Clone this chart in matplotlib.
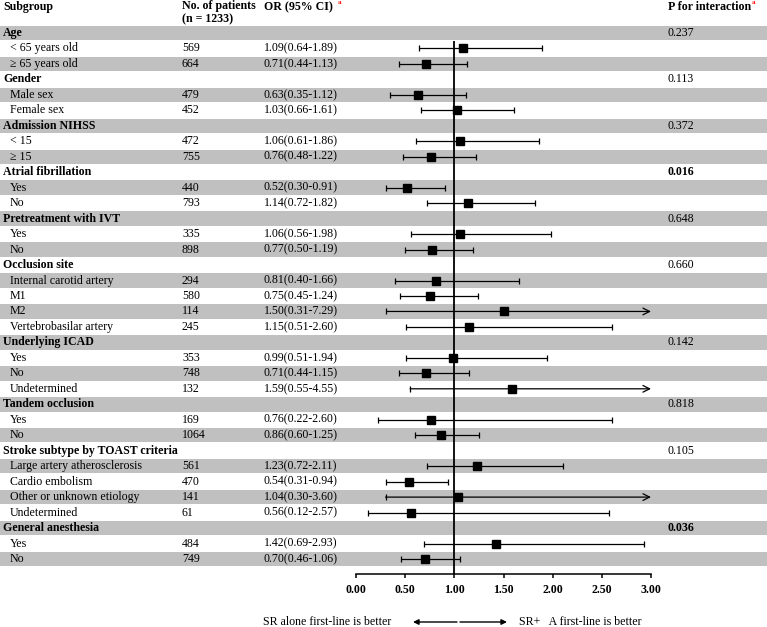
import numpy as np
import matplotlib
matplotlib.use("Agg")
import matplotlib.pyplot as plt

plt.rcParams['font.family'] = ['Liberation Serif', 'DejaVu Serif']

# ---- data (None = group header row) ----
subgroups = [
  "Age", "< 65 years old", "\u2265 65 years old",
  "Gender", "Male sex", "Female sex",
  "Admission NIHSS", "< 15", "\u2265 15",
  "Atrial fibrillation", "Yes", "No",
  "Pretreatment with IVT", "Yes", "No",
  "Occlusion site", "Internal carotid artery", "M1", "M2", "Vertebrobasilar artery",
  "Underlying ICAD", "Yes", "No", "Undetermined",
  "Tandem occlusion", "Yes", "No",
  "Stroke subtype by TOAST criteria", "Large artery atherosclerosis", "Cardio embolism",
  "Other or unknown etiology", "Undetermined",
  "General anesthesia", "Yes", "No",
]
n_patients = [None, 569, 664, None, 479, 452, None, 472, 755, None, 440, 793,
              None, 335, 898, None, 294, 580, 114, 245, None, 353, 748, 132,
              None, 169, 1064, None, 561, 470, 141, 61, None, 484, 749]
or_est = [None, 1.09, 0.71, None, 0.63, 1.03, None, 1.06, 0.76, None, 0.52, 1.14,
          None, 1.06, 0.77, None, 0.81, 0.75, 1.50, 1.15, None, 0.99, 0.71, 1.59,
          None, 0.76, 0.86, None, 1.23, 0.54, 1.04, 0.56, None, 1.42, 0.70]
ci_low = [None, 0.64, 0.44, None, 0.35, 0.66, None, 0.61, 0.48, None, 0.30, 0.72,
          None, 0.56, 0.50, None, 0.40, 0.45, 0.31, 0.51, None, 0.51, 0.44, 0.55,
          None, 0.22, 0.60, None, 0.72, 0.31, 0.30, 0.12, None, 0.69, 0.46]
ci_high = [None, 1.89, 1.13, None, 1.12, 1.61, None, 1.86, 1.22, None, 0.91, 1.82,
           None, 1.98, 1.19, None, 1.66, 1.24, 7.29, 2.60, None, 1.94, 1.15, 4.55,
           None, 2.60, 1.25, None, 2.11, 0.94, 3.60, 2.57, None, 2.93, 1.06]
p_interaction = {0: "0.237", 3: "0.113", 6: "0.372", 9: "0.016", 12: "0.648",
                 15: "0.660", 20: "0.142", 24: "0.818", 27: "0.105", 32: "0.036"}
p_bold = ["0.016", "0.036"]
xticks = [0.0, 0.5, 1.0, 1.5, 2.0, 2.5, 3.0]
x_max = 3.0

GRAY = "#c0c0c0"
FS = 8.6
W, H = 767, 627
row0, row_h = 33, 15.47
axis_y = 574

fig = plt.figure(figsize=(W / 100, H / 100), dpi=100)
bg = fig.add_axes([0, 0, 1, 1])
bg.set_xlim(0, W)
bg.set_ylim(H, 0)
bg.axis("off")

x0, x1 = 356, 651
ax = fig.add_axes([x0 / W, (H - axis_y) / H, (x1 - x0) / W, axis_y / H])
ax.set_xlim(0, x_max)
ax.set_ylim(axis_y, 0)
ax.patch.set_visible(False)

# header
bg.text(3, 7, "Subgroup", fontsize=FS, fontweight="bold", va="center")
bg.text(182, 6, "No. of patients", fontsize=FS, fontweight="bold", va="center")
bg.text(182, 19, "(n = 1233)", fontsize=FS, fontweight="bold", va="center")
bg.text(264, 7, "OR (95% CI)", fontsize=FS, fontweight="bold", va="center")
bg.text(338, 3, "a", fontsize=5, color="red", fontweight="bold", va="center")
bg.text(668, 7, "P for interaction", fontsize=FS, fontweight="bold", va="center")
bg.text(752, 2, "a", fontsize=5, color="red", fontweight="bold", va="center")

ys = row0 + row_h * np.arange(len(subgroups))
for i, (lab, y) in enumerate(zip(subgroups, ys)):
  if i % 2 == 0:
    bg.axhspan(y - row_h / 2 + 0.5, y + row_h / 2 - 0.5, color=GRAY, lw=0, zorder=0)
  if n_patients[i] is None:
    bg.text(3, y, lab, fontsize=FS, fontweight="bold", va="center")
  else:
    bg.text(10, y, lab, fontsize=FS, va="center")
    bg.text(182, y, str(n_patients[i]), fontsize=FS, va="center")
    bg.text(264, y, "{:.2f}({:.2f}-{:.2f})".format(or_est[i], ci_low[i], ci_high[i]),
            fontsize=FS, va="center")
  if i in p_interaction:
    p = p_interaction[i]
    bg.text(668, y, p, fontsize=FS, va="center",
            fontweight="bold" if p in p_bold else "normal")

# forest marks
for i, y in enumerate(ys):
  if or_est[i] is None:
    continue
  lo, hi = ci_low[i], ci_high[i]
  if hi > x_max:
    ax.annotate("", xy=(x_max, y), xytext=(lo, y),
                arrowprops=dict(arrowstyle="->", lw=0.9, color="black",
                                shrinkA=0, shrinkB=0, mutation_scale=12))
    ax.plot([lo], [y], marker="|", color="black", ms=4.5, mew=0.9)
  else:
    ax.errorbar([or_est[i]], [y], xerr=[[or_est[i] - lo], [hi - or_est[i]]],
                fmt="none", ecolor="black", elinewidth=0.9, capsize=2.3, capthick=0.9)
  ax.plot([or_est[i]], [y], marker="s", color="black", ms=6.3, zorder=5)

ax.vlines(1.0, ys[0] + row_h / 2, axis_y, color="black", lw=1.3, zorder=4)

for s in ["top", "right", "left"]:
  ax.spines[s].set_visible(False)
ax.spines["bottom"].set_linewidth(1.1)
ax.set_yticks([])
ax.set_xticks(xticks)
ax.set_xticklabels(["{:.2f}".format(t) for t in xticks], fontsize=FS, fontweight="bold")
ax.tick_params(axis="x", direction="out", length=3, width=1.1, pad=4)

# bottom annotation
bg.text(263, 622, "SR alone first-line is better", fontsize=FS, va="center")
bg.text(519, 622, "SR+   A first-line is better", fontsize=FS, va="center")
bg.annotate("", xy=(413, 622), xytext=(457, 622),
            arrowprops=dict(arrowstyle="-|>", lw=1.0, color="black",
                            shrinkA=0, shrinkB=0, mutation_scale=8))
bg.annotate("", xy=(507, 622), xytext=(460, 622),
            arrowprops=dict(arrowstyle="-|>", lw=1.0, color="black",
                            shrinkA=0, shrinkB=0, mutation_scale=8))

fig.savefig("out.png", dpi=100)
